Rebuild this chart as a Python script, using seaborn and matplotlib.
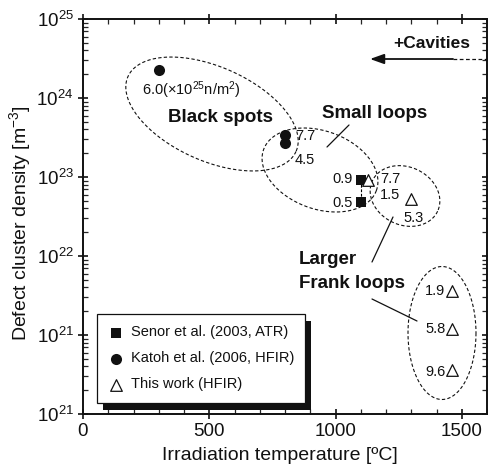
import numpy as np
import pandas as pd
import matplotlib
matplotlib.use("Agg")
import matplotlib.pyplot as plt
import seaborn as sns
from matplotlib.patches import Rectangle

# ---------------- data ----------------
senor_T = [1100, 1100]
senor_N = [9.2e22, 4.8e22]
katoh_T = [300, 800, 800]
katoh_N = [2.25e24, 3.4e23, 2.7e23]
this_T = [1130, 1300, 1460, 1460, 1460]
this_N = [9.2e22, 5.2e22, 3.6e21, 1.2e21, 3.6e20]
series_names = ["Senor et al. (2003, ATR)", "Katoh et al. (2006, HFIR)", "This work (HFIR)"]
x_ticks = [0, 500, 1000, 1500]
y_ticks = [1e20, 1e21, 1e22, 1e23, 1e24, 1e25]
y_tick_labels = ["$10^{21}$", "$10^{21}$", "$10^{22}$", "$10^{23}$", "$10^{24}$", "$10^{25}$"]
x_label = "Irradiation temperature [ºC]"
y_label = "Defect cluster density [m$^{-3}$]"

# ---------------- style ----------------
sns.set_style("ticks")
plt.rcParams["font.family"] = ["Liberation Sans", "DejaVu Sans"]
plt.rcParams["mathtext.default"] = "regular"
plt.rcParams["axes.linewidth"] = 1.4

W, H = 489, 468
fig = plt.figure(figsize=(W / 100, H / 100), dpi=100)
L, R, T, B = 83, 487, 19, 414
ax = fig.add_axes([L / W, (H - B) / H, (R - L) / W, (B - T) / H])


def P(x, y):
    x = np.asarray(x, dtype=float)
    y = np.asarray(y, dtype=float)
    return (x - L) / (R - L), (B - y) / (B - T)


# ---------------- data marks ----------------
df_s = pd.DataFrame({"T": senor_T, "N": senor_N})
df_k = pd.DataFrame({"T": katoh_T, "N": katoh_N})
df_t = pd.DataFrame({"T": this_T, "N": this_N})

ax.plot(senor_T, senor_N, ls=(0, (2.5, 1.5)), lw=0.8, color="k", zorder=2)
sns.scatterplot(data=df_s, x="T", y="N", marker="s", s=52, color="#111111",
                edgecolor="#111111", linewidth=0, label=series_names[0], ax=ax, zorder=3)
sns.scatterplot(data=df_k, x="T", y="N", marker="o", s=64, color="#111111",
                edgecolor="#111111", linewidth=0, label=series_names[1], ax=ax, zorder=3)
sns.scatterplot(data=df_t, x="T", y="N", marker="^", s=70, facecolor="white",
                edgecolor="#111111", linewidth=0.9, label=series_names[2], ax=ax, zorder=3)

ax.set_yscale("log")
ax.set_xlim(0, 1600)
ax.set_ylim(1e20, 1e25)
ax.set_xticks(x_ticks)
ax.set_xticklabels([str(v) for v in x_ticks])
ax.set_xticks(np.arange(0, 1601, 100), minor=True)
ax.set_yticks(y_ticks)
ax.set_yticklabels(y_tick_labels)
ax.yaxis.set_minor_locator(matplotlib.ticker.LogLocator(base=10, subs=np.arange(2, 10)))
ax.yaxis.set_minor_formatter(matplotlib.ticker.NullFormatter())

ax.tick_params(which="major", direction="inout", length=7.5, width=1.2,
               top=True, right=True, labelsize=13.5, pad=3, colors="#111111")
ax.tick_params(which="minor", direction="in", length=3.5, width=0.9,
               top=True, right=True)
for s in ax.spines.values():
    s.set_color("#111111")

ax.set_xlabel(x_label, fontsize=14, color="#111111")
ax.set_ylabel(y_label, fontsize=14, color="#111111")
ax.xaxis.set_label_coords(*P(280, 456))
ax.yaxis.set_label_coords(*P(20, 223))
ax.xaxis.label.set_va("center")
ax.yaxis.label.set_va("center")

# ---------------- dashed ellipses ----------------
def ellipse(cx, cy, w, h, ang):
    t = np.linspace(0, 2 * np.pi, 300)
    a = np.deg2rad(ang)
    x = cx + w / 2 * np.cos(t) * np.cos(a) - h / 2 * np.sin(t) * np.sin(a)
    y = cy + w / 2 * np.cos(t) * np.sin(a) + h / 2 * np.sin(t) * np.cos(a)
    fx, fy = P(x, y)
    ax.plot(fx, fy, transform=ax.transAxes, ls=(0, (3, 2)), lw=0.8, color="#111111", zorder=1)


ellipse(212, 114, 184, 94, 24)
ellipse(320, 170, 120, 78, 20)
ellipse(405, 196, 72, 58, 25)
ellipse(442, 333, 68, 133, 0)


def seg(x0, y0, x1, y1, **kw):
    fx, fy = P([x0, x1], [y0, y1])
    ax.plot(fx, fy, transform=ax.transAxes, color="#111111", lw=0.9, **kw)


seg(327, 147, 349, 125)
seg(372, 262, 393, 217)
seg(372, 299, 417, 321)

# ---------------- texts ----------------
def txt(x, y, s, size=10.5, ha="left", bold=False):
    fx, fy = P(x, y)
    ax.text(fx, fy, s, transform=ax.transAxes, ha=ha, va="center", fontsize=size,
            fontweight="bold" if bold else "normal", color="#111111")


txt(142, 90, "6.0(×10$^{25}$n/m$^{2}$)")
txt(295, 136, "7.7")
txt(295, 160, "4.5")
txt(353, 179, "0.9", ha="right")
txt(353, 203, "0.5", ha="right")
txt(380, 179, "7.7")
txt(380, 195, "1.5")
txt(403, 218, "5.3")
txt(425, 291, "1.9")
txt(425, 329, "5.8")
txt(425, 372, "9.6")

txt(220, 118, "Black spots", size=13.5, ha="center", bold=True)
txt(375, 113, "Small loops", size=13.5, ha="center", bold=True)
txt(299, 260, "Larger", size=13.5, bold=True)
txt(299, 283, "Frank loops", size=13.5, bold=True)
txt(432, 44, "+Cavities", size=12.5, ha="center", bold=True)

# arrow
ax.annotate("", xy=P(370, 59), xytext=P(453, 59), xycoords="axes fraction",
            textcoords="axes fraction",
            arrowprops=dict(arrowstyle="-|>,head_length=0.7,head_width=0.25",
                            color="#111111", lw=1.3, shrinkA=0, shrinkB=0,
                            mutation_scale=12))
seg(453, 59, 487, 59, ls=(0, (3, 2)))

# ---------------- legend ----------------
lx0, ly0 = P(97, 403)
leg = ax.legend(loc="lower left", bbox_to_anchor=(lx0, ly0, (305 - 97) / (R - L), 0.2),
                mode="expand", borderaxespad=0, fontsize=10.5, frameon=True,
                fancybox=False, framealpha=1, edgecolor="#111111",
                handlelength=1.0, handletextpad=0.5, borderpad=0.8,
                labelspacing=0.82)
leg.get_frame().set_linewidth(0.9)
leg.set_zorder(6)
for t in leg.get_texts():
    t.set_color("#111111")

fig.canvas.draw()
bb = leg.get_window_extent(fig.canvas.get_renderer())
inv = ax.transAxes.inverted()
(ax0, ay0) = inv.transform((bb.x0 + 6, bb.y0 - 7))
(ax1, ay1) = inv.transform((bb.x1 + 6, bb.y1 - 7))
ax.add_patch(Rectangle((ax0, ay0), ax1 - ax0, ay1 - ay0, transform=ax.transAxes,
                       facecolor="#111111", edgecolor="none", zorder=5.5, clip_on=False))

fig.savefig("out.png", dpi=100)
